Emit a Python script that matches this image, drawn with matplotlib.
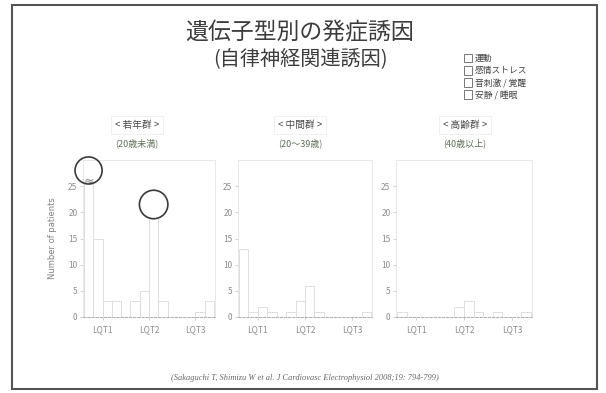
import numpy as np
import matplotlib
matplotlib.use("Agg")
import matplotlib.pyplot as plt
from matplotlib.patches import Patch, Rectangle

plt.rcParams['font.family'] = ['Noto Sans CJK JP', 'DejaVu Sans']

#-------------------------------------------------------------------------------
genotypes = ['LQT1', 'LQT2', 'LQT3']
triggers = ['運動', '感情ストレス', '音刺激 / 覚醒', '安静 / 睡眠']

panel_names = ['< 若年群 >', '< 中間群 >', '< 高齢群 >']
panel_ages = ['(20歳未満)', '(20〜39歳)', '(40歳以上)']

# counts per trigger for LQT1, LQT2, LQT3
young_exercise = [26, 3, 0]
young_emotion = [15, 5, 0]
young_arousal = [3, 19, 1]
young_rest = [3, 3, 3]

middle_exercise = [13, 1, 0]
middle_emotion = [1, 3, 0]
middle_arousal = [2, 6, 0]
middle_rest = [1, 1, 1]

elder_exercise = [1, 0, 1]
elder_emotion = [0, 2, 0]
elder_arousal = [0, 3, 0]
elder_rest = [0, 1, 1]

y_ticks = [0, 5, 10, 15, 20, 25]

#-------------------------------------------------------------------------------
panels = [
    [young_exercise, young_emotion, young_arousal, young_rest],
    [middle_exercise, middle_emotion, middle_arousal, middle_rest],
    [elder_exercise, elder_emotion, elder_arousal, elder_rest],
]

W, H = 606, 393
fig = plt.figure(figsize=(W / 100, H / 100), dpi=100)
fig.patch.set_facecolor('white')

def px_axes(left, top, right, bottom):
    return fig.add_axes([left / W, 1 - bottom / H, (right - left) / W, (bottom - top) / H])

axes_px = [(83, 160, 215, 317), (238, 160, 372, 317), (396, 160, 532, 317)]
light = '#dedede'
bar_w = 0.2
x = np.arange(len(genotypes))

for i, (series, box) in enumerate(zip(panels, axes_px)):
    ax = px_axes(*box)
    for k, vals in enumerate(series):
        ax.bar(x + (k - 1.5) * bar_w, vals, bar_w, facecolor='white',
               edgecolor=light, linewidth=0.7)
    ax.set_xlim(-0.42, 2.42)
    ax.set_ylim(0, 30)
    ax.set_yticks(y_ticks)
    ax.set_yticklabels([str(t) for t in y_ticks])
    ax.set_xticks(x)
    ax.set_xticklabels(genotypes)
    ax.tick_params(axis='both', labelsize=6, colors='#c0c0c0', labelcolor='#8c8c8c',
                   length=2, width=0.5, pad=2)
    ax.tick_params(axis='x', pad=4)
    for s in ax.spines.values():
        s.set_color('#e4e4e4')
        s.set_linewidth(0.6)
    ax.spines['bottom'].set_color('#a0a0a0')
    ax.spines['bottom'].set_linestyle((0, (3, 2)))

    if i == 0:
        ax.set_ylabel('Number of patients', fontsize=6, color='#808080', labelpad=8,
                      family=['DejaVu Sans'])
        # the hand-drawn circles around the two dominant triggers
        ax.scatter([x[0] - 1.5 * bar_w], [young_exercise[0] + 2], s=380,
                   facecolors='none', edgecolors='#3a3a3a', linewidths=1.2,
                   clip_on=False, zorder=5)
        ax.scatter([x[1] + 0.5 * bar_w], [young_arousal[1] + 2.5], s=420,
                   facecolors='none', edgecolors='#3a3a3a', linewidths=1.2,
                   clip_on=False, zorder=5)
        ax.text(x[0] - 1.5 * bar_w, young_exercise[0], '≈', ha='center', va='center',
                fontsize=9, color='#888888', family=['DejaVu Sans'])

#-------------------------------------------------------------------------------
fig.text(300 / W, 1 - 33 / H, '遺伝子型別の発症誘因', ha='center', va='center',
         fontsize=16.5, color='#3c3c3c')
fig.text(300 / W, 1 - 60 / H, '(自律神経関連誘因)', ha='center', va='center',
         fontsize=14.5, color='#3c3c3c')

title_x = [137, 300, 465]
for tx, name, age in zip(title_x, panel_names, panel_ages):
    fig.text(tx / W, 1 - 125 / H, name, ha='center', va='center', fontsize=7,
             color='#4a4a4a',
             bbox=dict(facecolor='white', edgecolor='#eeeeee', linewidth=0.6, pad=3))
    fig.text(tx / W, 1 - 143 / H, age, ha='center', va='center', fontsize=6.5,
             color='#5f6e58')

handles = [Patch(facecolor='white', edgecolor='#777777', linewidth=0.7) for _ in triggers]
fig.legend(handles, triggers, loc='upper left', bbox_to_anchor=(460 / W, 1 - 50 / H),
           frameon=False, fontsize=6.3, handlelength=1.0, handleheight=1.2,
           labelspacing=0.3, handletextpad=0.3, borderaxespad=0, labelcolor='#444444')

fig.text(305 / W, 1 - 378 / H,
         '(Sakaguchi T, Shimizu W et al. J Cardiovasc Electrophysiol 2008;19: 794-799)',
         ha='center', va='center', fontsize=6, style='italic',
         family=['Liberation Serif'], color='#666666')

fig.patches.append(Rectangle((12 / W, 1 - 389 / H), 585 / W, 384 / H,
                             transform=fig.transFigure, fill=False,
                             edgecolor='#555555', linewidth=1.5))

fig.savefig('out.png', dpi=100)
